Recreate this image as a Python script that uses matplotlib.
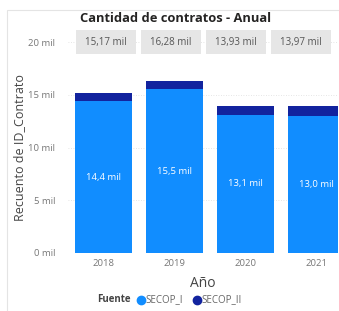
import matplotlib
matplotlib.use("Agg")
import matplotlib.pyplot as plt
from matplotlib.patches import Rectangle
from matplotlib.lines import Line2D

years = ["2018", "2019", "2020", "2021"]
secop_i = [14.4, 15.5, 13.1, 13.0]
secop_ii = [0.77, 0.78, 0.83, 0.97]
totals = [15.17, 16.28, 13.93, 13.97]
total_labels = ["15,17 mil", "16,28 mil", "13,93 mil", "13,97 mil"]
i_labels = ["14,4 mil", "15,5 mil", "13,1 mil", "13,0 mil"]
yticks = [0, 5, 10, 15, 20]
ytick_labels = ["0 mil", "5 mil", "10 mil", "15 mil", "20 mil"]

C1 = "#118DFF"
C2 = "#12239E"
FONT = ["Open Sans", "DejaVu Sans"]
plt.rcParams["font.family"] = FONT

W, H = 339, 311
fig = plt.figure(figsize=(W / 100, H / 100), dpi=100)

def fx(px):
    return px / W

def fy(py):
    return 1 - py / H

# frame
fig.patches.append(Rectangle((fx(7), fy(330)), fx(340), fy(10) - fy(330),
                             transform=fig.transFigure, fill=False,
                             edgecolor="#e4e4e4", linewidth=0.8))

ax = fig.add_axes([fx(68), fy(253), fx(338) - fx(68), fy(42) - fy(253)])
x = range(len(years))
ax.bar(x, secop_i, width=0.8, color=C1, zorder=2)
ax.bar(x, secop_ii, bottom=secop_i, width=0.8, color=C2, zorder=2)
ax.set_xlim(-0.5, 3.31)
ax.set_ylim(0, 20)
ax.set_yticks(yticks)
ax.set_yticklabels(ytick_labels)
ax.set_xticks(list(x))
ax.set_xticklabels(years)
ax.tick_params(axis="both", length=0, labelsize=6.8, colors="#777777", pad=4)
ax.tick_params(axis="y", pad=9)
for s in ax.spines.values():
    s.set_visible(False)
ax.grid(axis="y", color="#dddddd", linestyle=(0, (1, 2)), linewidth=0.6, zorder=0)
ax.set_axisbelow(True)

for i, (v, lab) in enumerate(zip(secop_i, i_labels)):
    ax.text(i, v / 2, lab, ha="center", va="center", color="white", fontsize=6.8)

# total cards row
for i, lab in enumerate(total_labels):
    cx = 106 + i * 65
    fig.patches.append(Rectangle((fx(cx - 30), fy(54)), fx(60), fy(30) - fy(54),
                                 transform=fig.transFigure, facecolor="#e6e6e6",
                                 edgecolor="none", zorder=3))
    fig.text(fx(cx), fy(42), lab, ha="center", va="center", color="#555555",
             fontsize=7, zorder=4)

ax.set_ylabel("Recuento de ID_Contrato", fontsize=9, color="#444444", labelpad=2)
ax.set_xlabel("Año", fontsize=10, color="#444444", labelpad=6)

fig.text(fx(176), fy(18), "Cantidad de contratos - Anual", ha="center", va="center",
         fontsize=9.3, fontweight="bold", color="#252423")

# legend
fig.text(fx(97), fy(300), "Fuente", ha="left", va="center", fontsize=7,
         fontweight="bold", color="#444444")
fig.add_artist(Line2D([fx(141)], [fy(300)], marker="o", markersize=6, color=C1,
                      transform=fig.transFigure, linestyle="none"))
fig.text(fx(145.5), fy(300), "SECOP_I", ha="left", va="center", fontsize=7, color="#666666")
fig.add_artist(Line2D([fx(197)], [fy(300)], marker="o", markersize=6, color=C2,
                      transform=fig.transFigure, linestyle="none"))
fig.text(fx(201.5), fy(300), "SECOP_II", ha="left", va="center", fontsize=7, color="#666666")

fig.savefig("out.png", dpi=100)
